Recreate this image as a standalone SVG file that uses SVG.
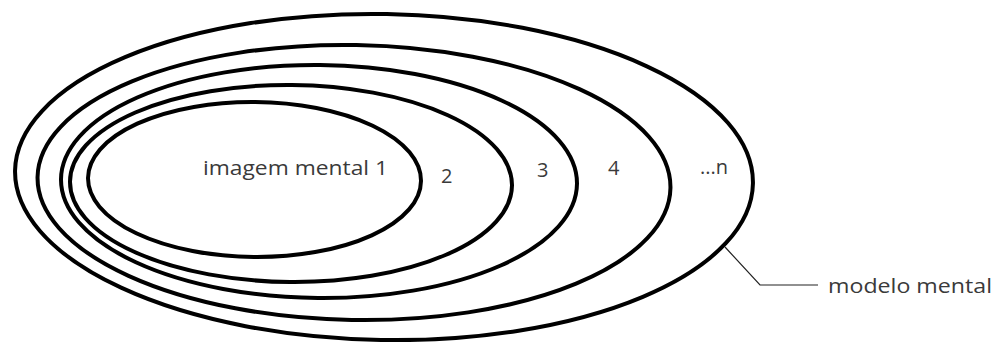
<svg xmlns="http://www.w3.org/2000/svg" width="995" height="342" viewBox="0 0 995 342">
<style>
.ring{fill:none;stroke:#000;stroke-width:4}
.lbl{font-family:"Open Sans","Liberation Sans",sans-serif;font-size:20px;fill:#3a3a3a}
.lead{fill:none;stroke:#222;stroke-width:1.2}
</style>
<rect width="995" height="342" fill="#fff"/>
<g id="ring-n">
<ellipse class="ring" cx="384" cy="177" rx="369" ry="163" transform="rotate(1 384 177)"/>
<text class="lbl" x="700" y="174">...n</text>
</g>
<g id="ring-4">
<ellipse class="ring" cx="354" cy="182.5" rx="316.5" ry="137.5" transform="rotate(1 354 182.5)"/>
<text class="lbl" x="608" y="175">4</text>
</g>
<g id="ring-3">
<ellipse class="ring" cx="319" cy="181.5" rx="258" ry="116.5" transform="rotate(0.5 319 181.5)"/>
<text class="lbl" x="537" y="177">3</text>
</g>
<g id="ring-2">
<ellipse class="ring" cx="291" cy="183.5" rx="221" ry="98.5" transform="rotate(0.5 291 183.5)"/>
<text class="lbl" x="441" y="183">2</text>
</g>
<g id="ring-1">
<ellipse class="ring" cx="254.5" cy="179.5" rx="166.5" ry="77.5" transform="rotate(0.5 254.5 179.5)"/>
<text class="lbl" x="203" y="175" textLength="185" lengthAdjust="spacingAndGlyphs">imagem mental 1</text>
</g>
<g id="connectors">
<polyline class="lead" points="725,247 760,285 818,285"/>
</g>
<g id="label-modelo">
<text class="lbl" x="828" y="293" textLength="164" lengthAdjust="spacingAndGlyphs">modelo mental</text>
</g>
</svg>
